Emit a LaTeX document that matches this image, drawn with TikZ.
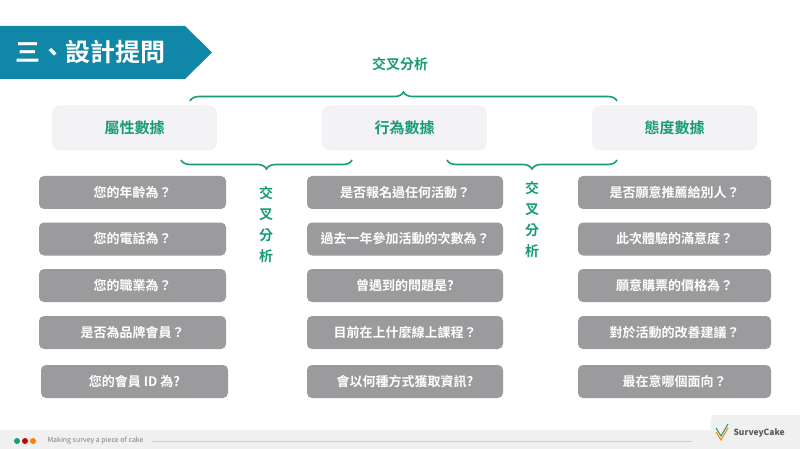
\documentclass[tikz,border=0pt]{standalone}
\usepackage{fontspec}
\setmainfont{Noto Sans CJK TC}[BoldFont={Noto Sans CJK TC Bold}]
\usetikzlibrary{decorations.pathreplacing}
\definecolor{teal1}{HTML}{1187A8}
\definecolor{grn}{HTML}{1A9B78}
\definecolor{qgray}{HTML}{9B9B9D}
\definecolor{cat}{HTML}{F3F2F5}
\begin{document}
\begin{tikzpicture}[x=1pt,y=-1pt,
 q/.style={fill=qgray,rounded corners=5pt,minimum height=33pt,text=white,font=\fontsize{13}{15}\selectfont\bfseries,inner sep=0pt},
 c/.style={fill=cat,rounded corners=8pt,minimum width=165pt,minimum height=45pt,text=grn,font=\fontsize{15}{17}\selectfont\bfseries},
 br/.style={draw=grn,line width=1.6pt,decorate,decoration={brace,amplitude=9pt}},
 lab/.style={text=grn,font=\fontsize{14}{16}\selectfont\bfseries}]
\useasboundingbox (0,0) rectangle (800,449);
\fill[white] (0,0) rectangle (800,449);
% header
\fill[teal1] (0,26) -- (185,26) -- (212,52.5) -- (185,79) -- (0,79) -- cycle;
\node[text=white,font=\fontsize{25}{27}\selectfont\bfseries,anchor=west] (title) at (12,52) {三、設計提問};
% categories
\node[c] (c1) at (134.5,128) {屬性數據};
\node[c] (c2) at (404.5,128) {行為數據};
\node[c] (c3) at (674.5,128) {態度數據};
% braces
\draw[br] (190,101) -- (617,101);
\node[lab] (t1) at (400,64) {交叉分析};
\draw[br,decoration={mirror}] (181,160) -- (352,160);
\draw[br,decoration={mirror}] (447,160) -- (617,160);
\node[lab,align=center,text width=14pt,font=\fontsize{14}{21}\selectfont\bfseries] (t2) at (266,225) {交\\叉\\分\\析};
\node[lab,align=center,text width=14pt,font=\fontsize{14}{21}\selectfont\bfseries] (t3) at (532,220) {交\\叉\\分\\析};
% questions
\foreach \n/\y/\t in {a1/192.5/您的年齡為？,a2/239/您的電話為？,a3/285.5/您的職業為？,a4/332.5/是否為品牌會員？}
 \node[q,minimum width=187pt] (\n) at (132.5,\y) {\t};
\node[q,minimum width=187pt] (a5) at (134.5,381.5) {您的會員 ID 為?};
\foreach \n/\y/\t in {b1/192.5/是否報名過任何活動？,b2/239/過去一年參加活動的次數為？,b3/285.5/曾遇到的問題是?,b4/332.5/目前在上什麼線上課程？,b5/381.5/會以何種方式獲取資訊?}
 \node[q,minimum width=196pt] (\n) at (405,\y) {\t};
\foreach \n/\y/\t in {d1/192.5/是否願意推薦給別人？,d2/239/此次體驗的滿意度？,d3/285.5/願意購票的價格為？,d4/332.5/對於活動的改善建議？,d5/381.5/最在意哪個面向？}
 \node[q,minimum width=193pt] (\n) at (674.5,\y) {\t};
% footer
\fill[gray!12] (0,430) rectangle (800,449);
\fill[gray!12] (708,449) -- (712,415) -- (800,415) -- (800,449) -- cycle;
\fill[grn] (17,441) circle (3);
\fill[red!80!black] (25,441) circle (3);
\fill[orange] (33,441) circle (3);
\node[anchor=west,text=gray,font=\fontsize{7}{8}\selectfont\itshape] (ft) at (44,441) {Making survey a piece of cake};
\draw[gray!40] (ft.east) ++(5,0) coordinate (l1) -- (692,441) coordinate (l2);
\node[anchor=west,text=gray!70!black,font=\fontsize{8.5}{9}\selectfont\itshape\bfseries] (logo) at (730,433) {SurveyCake};
\draw[grn,line width=1pt] (716,428) -- (721,436) -- (728,424);
\draw[orange,line width=1pt] (716,432) -- (721,440) -- (728,428);
\end{tikzpicture}
\end{document}
